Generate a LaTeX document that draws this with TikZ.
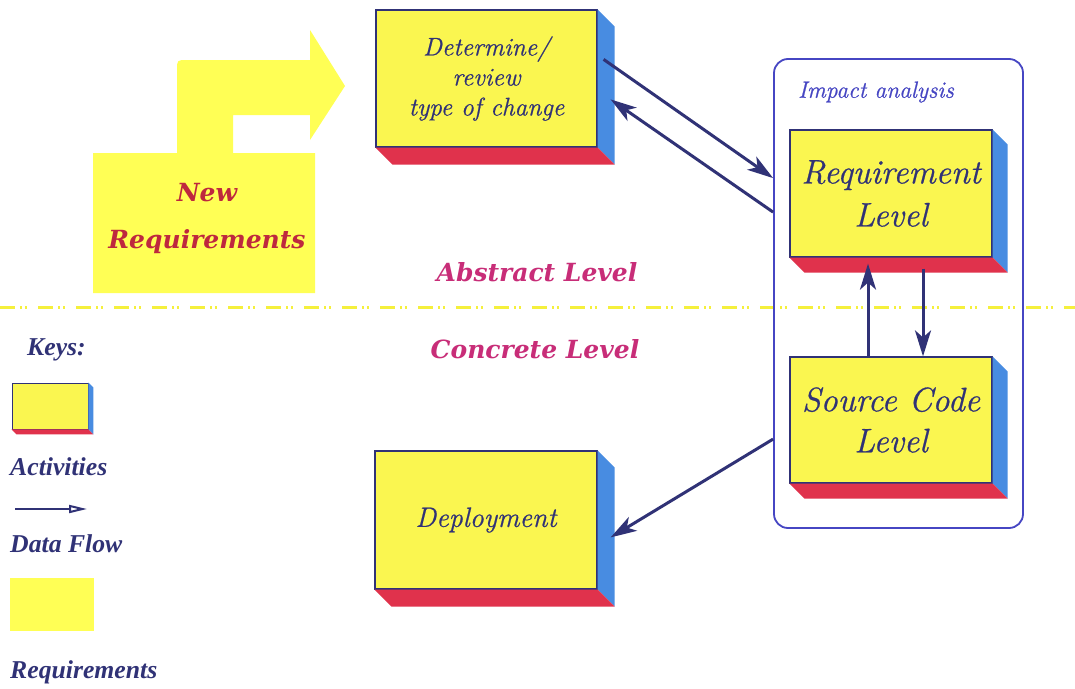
\documentclass[tikz,border=0pt]{standalone}
\usepackage{fontspec}
\usetikzlibrary{arrows.meta,calc}
\newfontfamily\keyfont{Liberation Serif}
\newfontfamily\levelfont{DejaVu Serif}
\newfontfamily\boxfont{Latin Modern Roman}[FakeBold=0.7]

\definecolor{faceyellow}{RGB}{250,246,80}
\definecolor{reqyellow}{RGB}{255,255,85}
\definecolor{sideblue}{RGB}{72,140,225}
\definecolor{bottomred}{RGB}{224,50,76}
\definecolor{inkblue}{RGB}{48,50,118}
\definecolor{levelpink}{RGB}{200,45,120}
\definecolor{newred}{RGB}{190,40,62}
\definecolor{impactblue}{RGB}{70,70,195}
\definecolor{dashyellow}{RGB}{245,240,60}

% blue right side and red bottom of a raised activity box
\newcommand{\extrude}[2]{%
  \fill[sideblue] (#1.north east) -- ++(#2,#2) -- ($(#1.south east)+(#2,#2)$) -- (#1.south east) -- cycle;
  \fill[bottomred] (#1.south west) -- ++(#2,#2) -- ($(#1.south east)+(#2,#2)$) -- (#1.south east) -- cycle;
}

\tikzset{
  actbox/.style={draw=inkblue, line width=1.2pt, fill=faceyellow, inner sep=0pt,
    align=center, text=inkblue},
  flow/.style={draw=inkblue, line width=3pt,
    -{Stealth[length=26pt,width=16pt,inset=7pt]}},
  keytext/.style={font=\keyfont\bfseries\itshape\fontsize{25.7}{30}\selectfont,
    text=inkblue, anchor=base west, inner sep=0pt},
  leveltext/.style={font=\levelfont\bfseries\itshape\fontsize{25}{30}\selectfont,
    text=levelpink, inner sep=0pt},
}

\begin{document}
\begin{tikzpicture}[x=1pt,y=-1pt]
\useasboundingbox (0,0) rectangle (1075,688);
\fill[white] (0,0) rectangle (1075,688);

% boundary between the two levels
\draw[dashyellow, line width=3pt,
  dash pattern=on 15pt off 5pt on 2pt off 3pt on 2pt off 11pt] (0,307) -- (1075,307);

% incoming requirements (bent arrow)
\fill[reqyellow] (93,153) -- (177,153) -- (177,70) .. controls (177,60) .. (187,60)
  -- (310,60) -- (310,30) -- (345,86) -- (310,140) -- (310,115) -- (233,115)
  -- (233,153) -- (315,153) -- (315,293) -- (93,293) -- cycle;
\node[font=\levelfont\bfseries\itshape\fontsize{25}{47}\selectfont, text=newred,
  align=center, inner sep=0pt] (newreq) at (207,218) {New\\Requirements};

% impact analysis group
\node[draw=impactblue, line width=1.8pt, rounded corners=14pt,
  minimum width=249pt, minimum height=469pt] (imp) at (898.5,293.5) {};
\node[text=impactblue, font=\boxfont\itshape\fontsize{23.5}{28}\selectfont] (impt) at (876,92) {Impact analysis};

% activities
\node[actbox, minimum width=221pt, minimum height=137pt,
  font=\boxfont\itshape\fontsize{25.5}{30}\selectfont] (det) at (486.5,78.5)
  {Determine/\\review\\type of change};
\extrude{det}{17}
\node[actbox, minimum width=222pt, minimum height=138pt,
  font=\boxfont\itshape\fontsize{28}{32}\selectfont] (dep) at (486,520) {Deployment};
\extrude{dep}{17}
\node[actbox, minimum width=202pt, minimum height=127pt,
  font=\boxfont\itshape\fontsize{34}{43}\selectfont] (req) at (891,193.5) {Requirement\\Level};
\extrude{req}{15}
\node[actbox, minimum width=202pt, minimum height=126pt,
  font=\boxfont\itshape\fontsize{34}{41}\selectfont] (src) at (891,420) {Source Code\\Level};
\extrude{src}{15}

% data flows
\coordinate (a1s) at ($(det.north east)+(6,50)$);
\coordinate (a1e) at ($(imp.north west)+(0,120)$);
\coordinate (a2s) at ($(imp.north west)+(0,154)$);
\coordinate (a2e) at ($(det.north east)+(13,90)$);
\coordinate (a3s) at ($(imp.north west)+(0,381)$);
\coordinate (a3e) at ($(dep.north east)+(13,87)$);
\coordinate (ups) at ($(src.north)+(-23,0)$);
\coordinate (upe) at ($(req.south)+(-23,6)$);
\coordinate (dns) at ($(req.south)+(32,11)$);
\coordinate (dne) at ($(src.north)+(32,0)$);
\draw[flow] (a1s) -- (a1e);
\draw[flow] (a2s) -- (a2e);
\draw[flow] (a3s) -- (a3e);
\draw[flow] (ups) -- (upe);
\draw[flow] (dns) -- (dne);

% level labels
\node[leveltext] (abs) at (537,272) {Abstract Level};
\node[leveltext] (con) at (535,349) {Concrete Level};

% keys
\node[keytext] (keys) at (27,355) {Keys:};
\node[actbox, minimum width=76pt, minimum height=46pt, line width=0.8pt] (kact) at (50,406) {};
\extrude{kact}{5}
\node[keytext] (kacttxt) at (10,475) {Activities};
\coordinate (kfs) at (15,509);
\coordinate (kfe) at (87,509);
\draw[inkblue, line width=2pt, -{Triangle[open,length=18pt,width=8pt]}] (kfs) -- (kfe);
\node[keytext] (kflowtxt) at (10,552) {Data Flow};
\node[fill=reqyellow, minimum width=84pt, minimum height=53pt, inner sep=0pt] (kreq) at (52,604.5) {};
\node[keytext] (kreqtxt) at (10,678) {Requirements};
\end{tikzpicture}
\end{document}
